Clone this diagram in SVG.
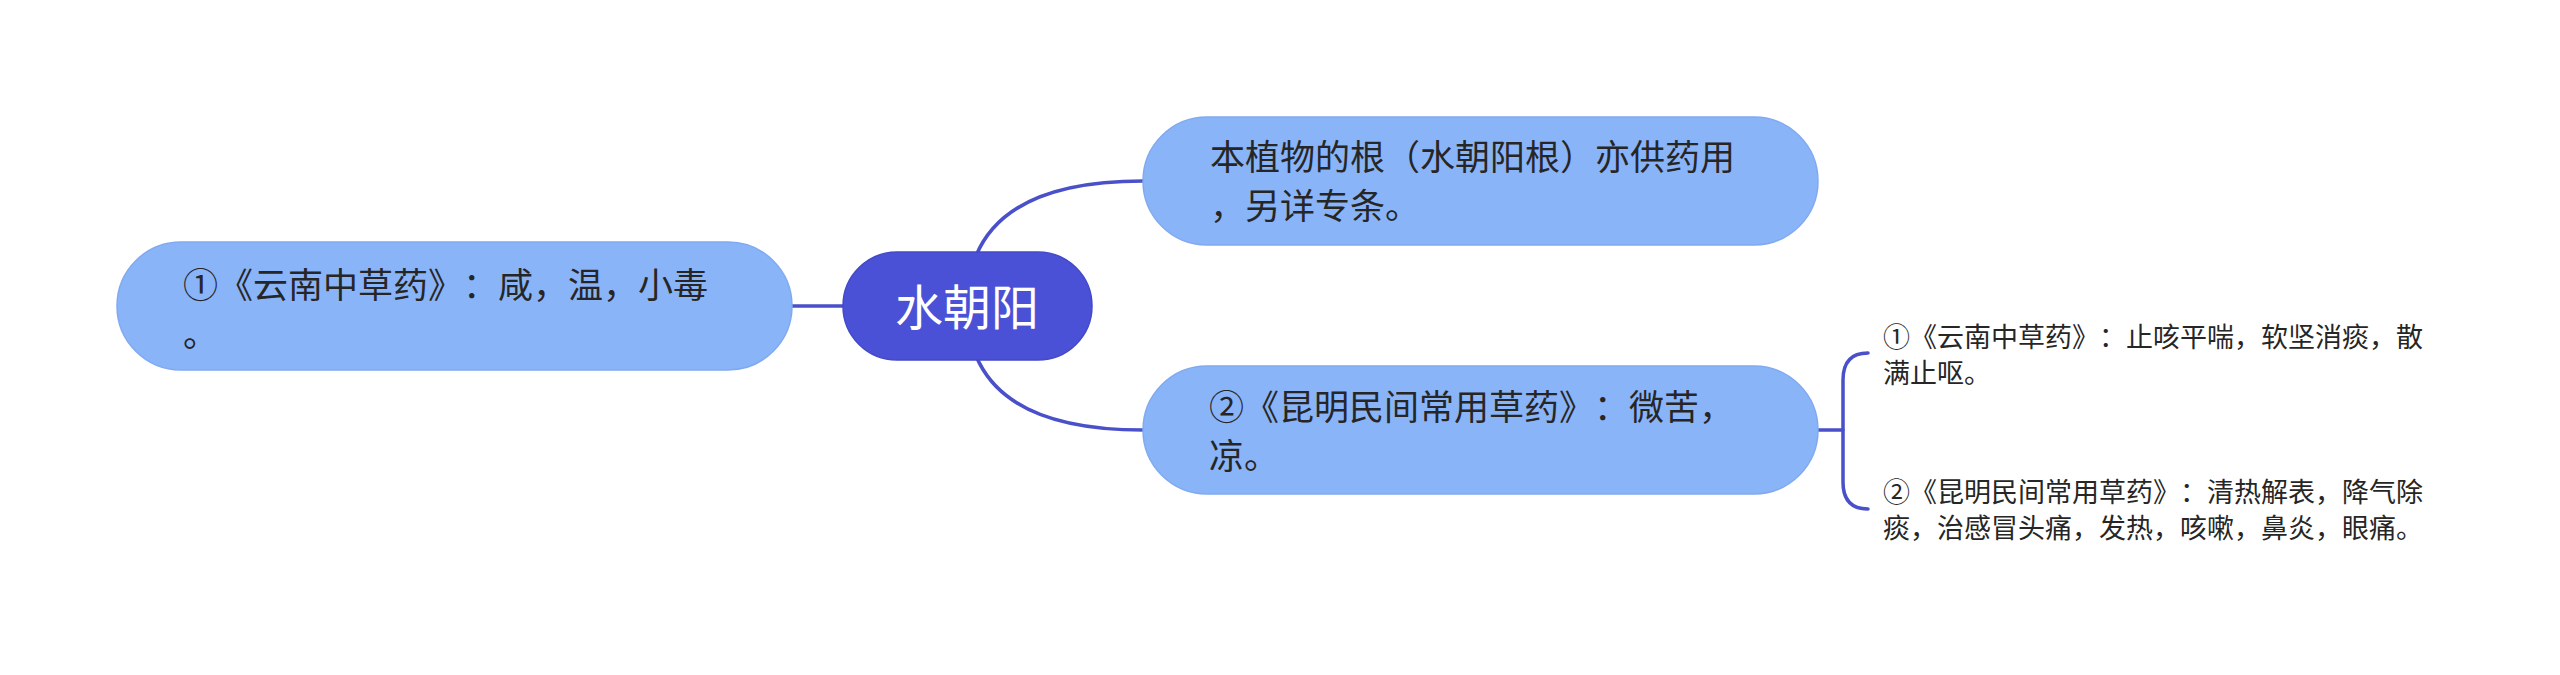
<svg xmlns="http://www.w3.org/2000/svg" width="2560" height="675" viewBox="0 0 2560 675">
  <style>
    text { text-spacing-trim: space-all; font-kerning: none; }
    .node { fill: #8ab4f8; stroke: #80aaf0; stroke-width: 1.5; }
    .root { fill: #4a51d6; stroke: #4349c8; stroke-width: 1.5; }
    .t { font-family: "Noto Sans CJK SC", "Noto Sans", sans-serif; fill: #262626; }
    .t35 { font-size: 35px; }
    .t27 { font-size: 27px; }
    .rt { font-family: "Noto Sans CJK SC", "Noto Sans", sans-serif; font-size: 48px; fill: #ffffff; text-anchor: middle; }
    .edge { fill: none; stroke: #4a50c9; stroke-width: 3.5; stroke-linecap: round; }
  </style>
  <rect width="2560" height="675" fill="#ffffff"/>
  <g id="connectors">
    <path class="edge" d="M967,306 L792,306"/>
    <path class="edge" d="M967,306 Q967,181 1143,181"/>
    <path class="edge" d="M967,306 Q967,430 1143,430"/>
    <path class="edge" d="M1818,430 L1843,430"/>
    <path class="edge" d="M1868,353 Q1843,353 1843,380 L1843,482 Q1843,509 1868,509"/>
  </g>
  <g id="node-left">
    <rect class="node" x="117" y="242" width="675" height="128" rx="64" ry="64"/>
    <text class="t t35" x="183" y="298">①《云南中草药》：咸，温，小毒</text>
    <text class="t t35" x="183" y="347">。</text>
  </g>
  <g id="node-root">
    <rect class="root" x="843" y="252" width="249" height="108" rx="54" ry="54"/>
    <text class="rt" x="967" y="325">水朝阳</text>
  </g>
  <g id="node-top">
    <rect class="node" x="1143" y="117" width="675" height="128" rx="64" ry="64"/>
    <text class="t t35" x="1210" y="170">本植物的根（水朝阳根）亦供药用</text>
    <text class="t t35" x="1210" y="219">，另详专条。</text>
  </g>
  <g id="node-bottom">
    <rect class="node" x="1143" y="366" width="675" height="128" rx="64" ry="64"/>
    <text class="t t35" x="1209" y="420">②《昆明民间常用草药》：微苦，</text>
    <text class="t t35" x="1209" y="469">凉。</text>
  </g>
  <g id="leaf-1">
    <text class="t t27" x="1883" y="347">①《云南中草药》：止咳平喘，软坚消痰，散</text>
    <text class="t t27" x="1883" y="383">满止呕。</text>
  </g>
  <g id="leaf-2">
    <text class="t t27" x="1883" y="502">②《昆明民间常用草药》：清热解表，降气除</text>
    <text class="t t27" x="1883" y="538">痰，治感冒头痛，发热，咳嗽，鼻炎，眼痛。</text>
  </g>
</svg>
